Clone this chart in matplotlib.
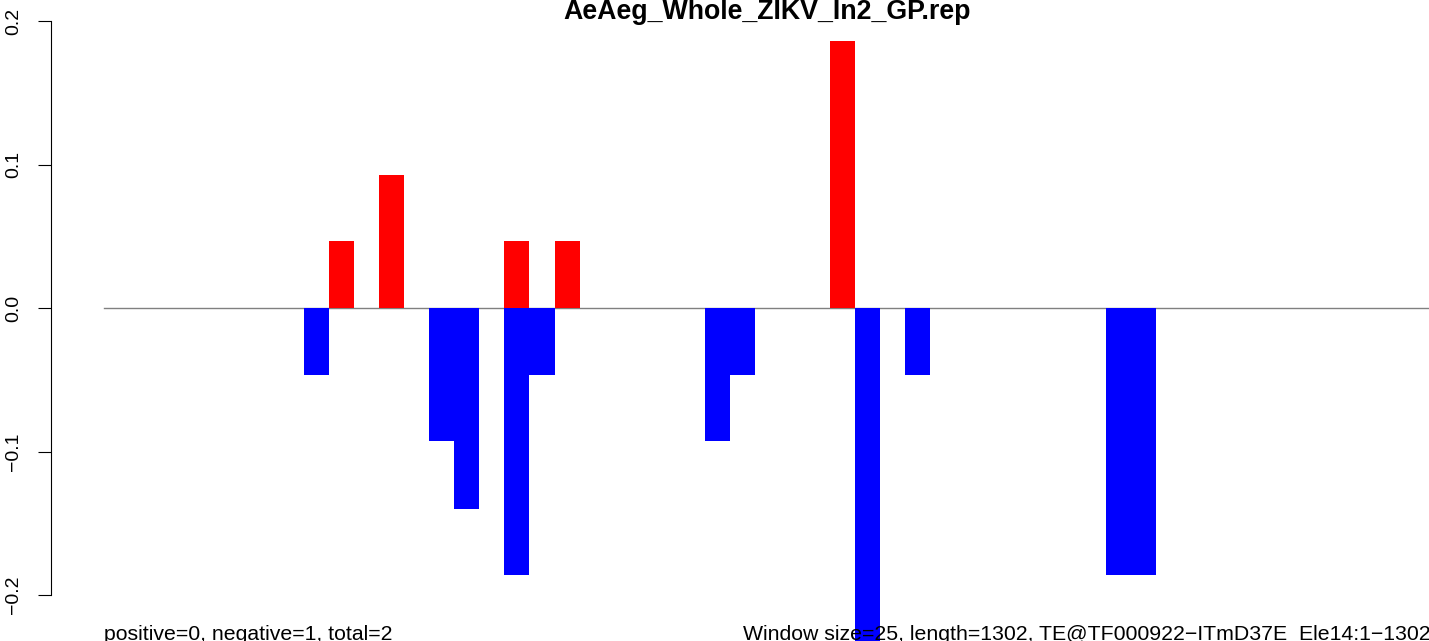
import matplotlib
matplotlib.use("Agg")
import matplotlib.pyplot as plt

plt.rcParams['font.family'] = ['Liberation Sans', 'DejaVu Sans']

title = "AeAeg_Whole_ZIKV_In2_GP.rep"
left_note = "positive=0, negative=1, total=2"
right_note = "Window size=25, length=1302, TE@TF000922\u2212ITmD37E_Ele14:1\u22121302"

# window index -> score
pos_slots = [13, 15, 20, 22, 33]
pos_vals = [0.0465, 0.093, 0.0465, 0.0465, 0.186]
neg_slots = [12, 17, 18, 20, 21, 28, 29, 34, 36, 44, 45]
neg_vals = [-0.0465, -0.093, -0.14, -0.186, -0.0465, -0.093, -0.0465,
            -0.2325, -0.0465, -0.186, -0.186]
yticks = [-0.2, -0.1, 0.0, 0.1, 0.2]

W, H = 1429, 641
fig = plt.figure(figsize=(W / 100, H / 100), dpi=100)
ax = fig.add_axes([51 / W, 0, 1 - 51 / W, 1])

# zero line
ax.plot([4, 70], [0, 0], color='#808080', lw=1.0, zorder=1)

ax.bar(pos_slots, pos_vals, width=1.0, align='edge', color='red', lw=0, zorder=2)
ax.bar(neg_slots, neg_vals, width=1.0, align='edge', color='blue', lw=0, zorder=2)

ppu = 574 / 0.4
ax.set_ylim(-0.2 - 46 / ppu, 0.2 + 21 / ppu)
ax.set_xlim((51 - 3.4) / 25.05, (W - 3.4) / 25.05)

for s in ['top', 'right', 'bottom']:
    ax.spines[s].set_visible(False)
ax.spines['left'].set_bounds(-0.2, 0.2)
ax.spines['left'].set_linewidth(0.8)
ax.set_xticks([])
ax.set_yticks(yticks)
ax.set_yticklabels(['\u22120.2', '\u22120.1', '0.0', '0.1', '0.2'],
                   rotation=90, va='center', fontsize=14)
ax.tick_params(axis='y', length=9.5, width=0.8, pad=11.5)
ax.set_facecolor('none')

fig.text(767 / W, 1 - 19 / H, title, ha='center', va='baseline',
         fontsize=19.3, fontweight='bold')
fig.text(104 / W, 1 - 640 / H, left_note, ha='left', va='baseline', fontsize=15.3)
fig.text(743 / W, 1 - 640 / H, right_note, ha='left', va='baseline', fontsize=15.3)

fig.savefig('out.png', dpi=100)
